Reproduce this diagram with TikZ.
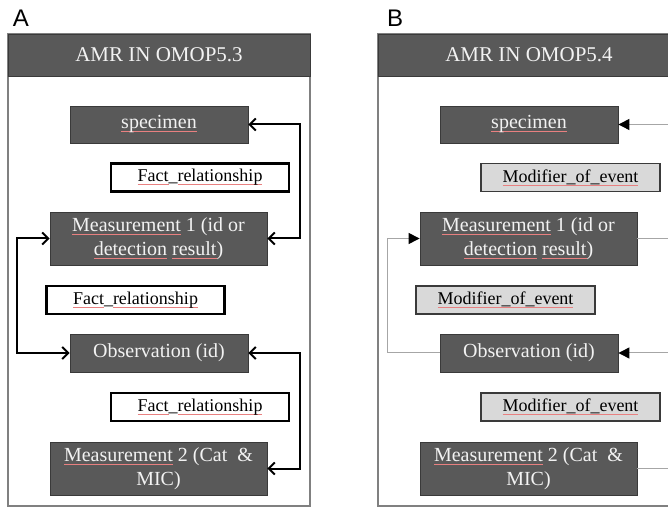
\documentclass[tikz,border=0pt]{standalone}
\usepackage{fontspec}
\usepackage{xcolor}
\setmainfont{Liberation Serif}
\newfontfamily\panelfont{Liberation Sans}
\usetikzlibrary{arrows.meta, positioning}
\definecolor{darkbox}{HTML}{595959}
\definecolor{darkline}{HTML}{3A3A3A}
\definecolor{boxtext}{HTML}{F2F2F2}
\definecolor{framegray}{HTML}{808080}
\definecolor{modfill}{HTML}{D9D9D9}
\definecolor{linkgray}{HTML}{A6A6A6}
\definecolor{spellred}{HTML}{E88080}
\newsavebox\spellbox
\newcommand{\spell}[1]{\sbox\spellbox{#1}\rlap{\color{spellred}\rule[-3pt]{\wd\spellbox}{0.5pt}}\usebox\spellbox}
\tikzset{
  panel/.style={font=\panelfont\fontsize{24}{26}\selectfont, text=black},
  frame/.style={draw=framegray, line width=1.2pt, fill=white},
  titlebar/.style={fill=darkbox, draw=darkline, line width=0.8pt},
  titletext/.style={font=\fontsize{21}{24}\selectfont, text=boxtext},
  tablebox/.style={fill=darkbox, draw=darkline, line width=0.8pt, inner sep=0pt, align=center,
    font=\fontsize{20}{24}\selectfont, text=boxtext},
  factbox/.style={fill=white, draw=black, line width=2.4pt, inner sep=0pt,
    minimum width=178pt, minimum height=28pt, font=\fontsize{18}{20}\selectfont, text=black},
  modbox/.style={fill=modfill, draw=darkline, line width=1.1pt, inner sep=0pt,
    minimum width=179pt, minimum height=28pt, font=\fontsize{18}{20}\selectfont, text=black},
  linkA/.style={{Straight Barb[length=6pt,width=12pt]}-{Straight Barb[length=6pt,width=12pt]}, line width=2pt, draw=black},
  linkB/.style={-{Triangle[length=11pt,width=11pt,color=black]}, line width=1pt, draw=linkgray},
  lineB/.style={line width=1pt, draw=linkgray}
}

\begin{document}
\begin{tikzpicture}[x=1pt,y=1pt]
\clip (0,0) rectangle (668,508);

% panel A
\node[panel] (labA) at (21,490) {A};
\draw[frame] (8,2) rectangle (310,474);
\draw[titlebar] (8,432) rectangle (310,474);
\node[titletext] (titleA) at (159,453) {AMR IN OMOP5.3};

\node[tablebox, minimum width=178pt, minimum height=37pt] (speca) at (159,383.5) {\spell{specimen}};
\node[factbox] (fr1) at (200,330.5) {\spell{Fact}\_\spell{relationship}};
\node[tablebox, minimum width=217pt, minimum height=53pt] (m1a) at (158.5,269.5) {\spell{Measurement} 1 (id or\\ \spell{detection} \spell{result})};
\node[factbox] (fr2) at (135.5,208) {\spell{Fact}\_\spell{relationship}};
\node[tablebox, minimum width=178pt, minimum height=38pt] (obsa) at (159,155) {Observation (id)};
\node[factbox] (fr3) at (200,101) {\spell{Fact}\_\spell{relationship}};
\node[tablebox, minimum width=217pt, minimum height=53pt] (m2a) at (158.5,39.5) {\spell{Measurement} 2 (Cat~~\&\\ MIC)};

\draw[linkA] (speca.east) -- ++(52,0) |- (m1a.east);
\draw[linkA] (m1a.west) -- ++(-33,0) |- (obsa.west);
\draw[linkA] (obsa.east) -- ++(52,0) |- (m2a.east);

% panel B
\node[panel] (labB) at (395,490) {B};
\draw[frame] (378,2) rectangle (680,474);
\draw[titlebar] (378,432) rectangle (680,474);
\node[titletext] (titleB) at (529,453) {AMR IN OMOP5.4};

\node[tablebox, minimum width=178pt, minimum height=37pt] (specb) at (529,383.5) {\spell{specimen}};
\node[modbox] (mod1) at (570.5,330.5) {\spell{Modifier\_of\_event}};
\node[tablebox, minimum width=217pt, minimum height=53pt] (m1b) at (528.5,269.5) {\spell{Measurement} 1 (id or\\ \spell{detection} \spell{result})};
\node[modbox] (mod2) at (505.5,208) {\spell{Modifier\_of\_event}};
\node[tablebox, minimum width=178pt, minimum height=38pt] (obsb) at (529,155) {Observation (id)};
\node[modbox] (mod3) at (570.5,101) {\spell{Modifier\_of\_event}};
\node[tablebox, minimum width=217pt, minimum height=53pt] (m2b) at (528.5,39.5) {\spell{Measurement} 2 (Cat~~\&\\ MIC)};

\coordinate (rspec) at (690,383.5);
\coordinate (rm1) at (690,269.5);
\coordinate (robs) at (690,155);
\coordinate (rm2) at (690,39.5);
\draw[linkB] (rspec) -- (specb.east);
\draw[lineB] (m1b.east) -- (rm1);
\draw[linkB] (robs) -- (obsb.east);
\draw[lineB] (m2b.east) -- (rm2);
\draw[linkB] (obsb.west) -- ++(-52,0) |- (m1b.west);

\end{tikzpicture}
\end{document}
